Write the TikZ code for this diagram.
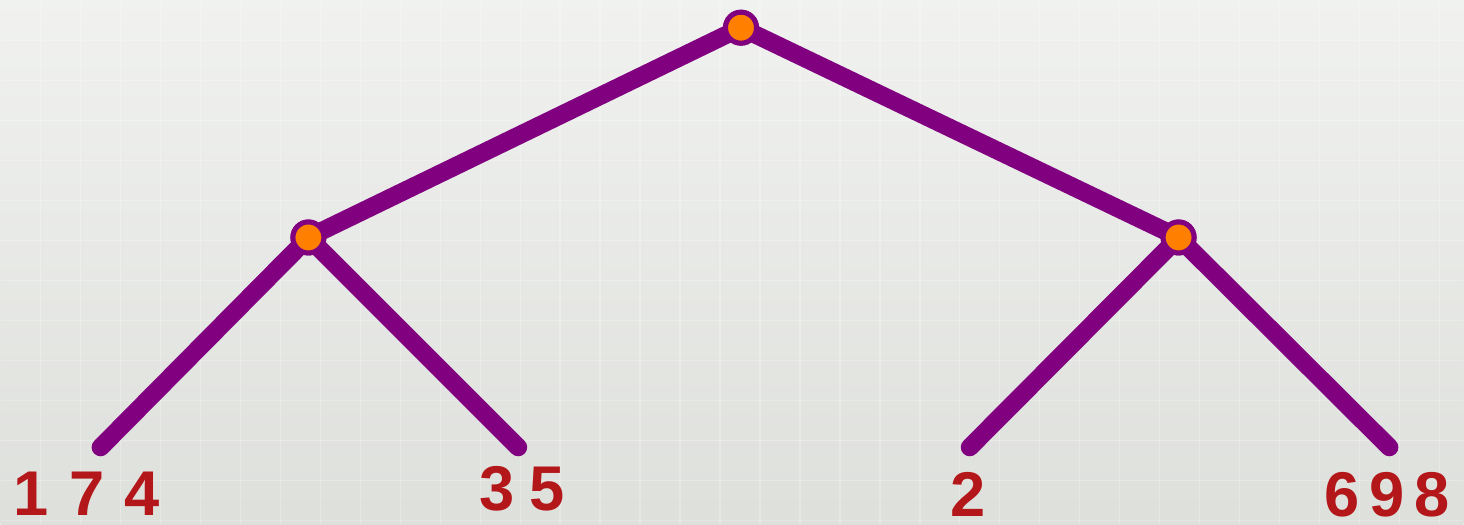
\documentclass[tikz,border=0pt]{standalone}
\usepackage{fontspec}
\setmainfont{Liberation Sans}
\definecolor{treepurple}{HTML}{800080}
\definecolor{nodeorange}{HTML}{FF8000}
\definecolor{digitred}{HTML}{B3171A}
\definecolor{paperbg}{HTML}{E7E9E5}

\begin{document}
\begin{tikzpicture}[x=0.01cm,y=-0.01cm,
    branch/.style={draw=treepurple, line width=0.18cm, line cap=round},
    inner/.style={circle, fill=nodeorange, draw=treepurple, line width=0.05cm, minimum size=0.31cm, inner sep=0pt},
    digits/.style={text=digitred, font=\fontsize{18}{18}\selectfont\bfseries, inner sep=0pt}]
  % paper background
  \fill[top color=paperbg!60!white, bottom color=paperbg!96!black] (0,0) rectangle (1464,524);
  \foreach \gx in {40,80,...,1440} \draw[white, opacity=0.25, line width=0.4pt] (\gx,0) -- (\gx,524);
  \foreach \gy in {40,80,...,520} \draw[white, opacity=0.25, line width=0.4pt] (0,\gy) -- (1464,\gy);
  \useasboundingbox (0,0) rectangle (1464,524);
  % internal nodes and leaf ends
  \node[inner] (root) at (741,27) {};
  \node[inner] (left) at (308,237) {};
  \node[inner] (right) at (1179,237) {};
  \coordinate (leafa) at (100,447);
  \coordinate (leafb) at (518,447);
  \coordinate (leafc) at (970,447);
  \coordinate (leafd) at (1390,447);
  % branches
  \draw[branch] (root.center) -- (left.center);
  \draw[branch] (root.center) -- (right.center);
  \draw[branch] (left.center) -- (leafa);
  \draw[branch] (left.center) -- (leafb);
  \draw[branch] (right.center) -- (leafc);
  \draw[branch] (right.center) -- (leafd);
  % redraw nodes on top
  \node[inner] at (root) {};
  \node[inner] at (left) {};
  \node[inner] at (right) {};
  % leaf labels
  \node[digits] (laba) at (86,494) {1\hspace{0.2cm}7\hspace{0.2cm}4};
  \node[digits] (labb) at (522,489) {3\hspace{0.15cm}5};
  \node[digits] (labc) at (968,494) {2};
  \node[digits] (labd) at (1388,494) {6\hspace{0.1cm}9\hspace{0.1cm}8};
\end{tikzpicture}
\end{document}
